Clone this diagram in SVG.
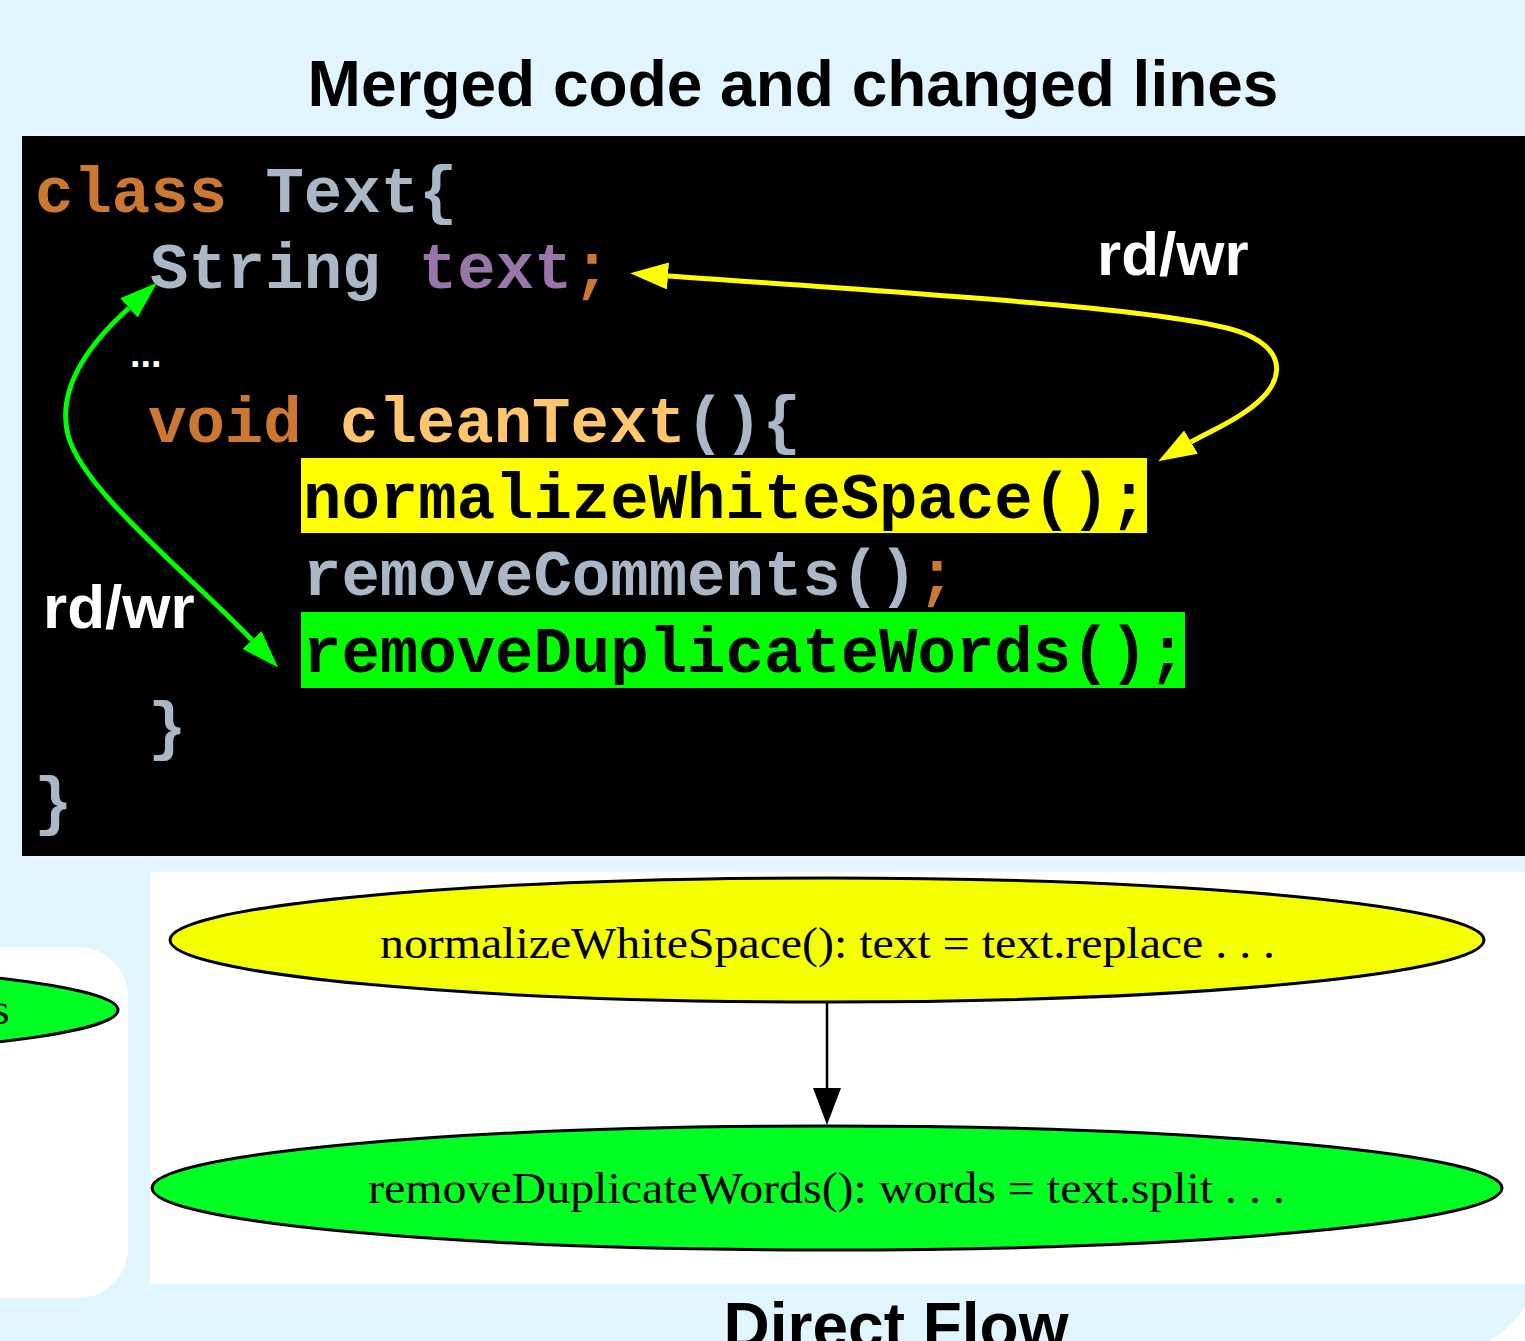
<svg xmlns="http://www.w3.org/2000/svg" width="1525" height="1341" viewBox="0 0 1525 1341">
<style>
.title{font-family:"Liberation Sans",Arial,sans-serif;font-weight:bold;font-size:64px;fill:#000}
.code{font-family:"Liberation Mono","Courier New",monospace;font-weight:bold;font-size:64px}
.kw{fill:#CC7832}
.id{fill:#A9B7C6}
.fld{fill:#9876AA}
.fn{fill:#FFC66D}
.hl{fill:#000}
.lbl{font-family:"Liberation Sans",Arial,sans-serif;font-weight:bold;font-size:62px;fill:#fff}
.gv{font-family:"Liberation Serif","Times New Roman",serif;font-size:45px;fill:#000}
.node{stroke:#000;stroke-width:3}
</style>
<defs>
<marker id="ahY" viewBox="0 0 10 10" refX="0" refY="5" preserveAspectRatio="none" markerUnits="userSpaceOnUse" markerWidth="38" markerHeight="27" orient="auto-start-reverse"><path d="M0,0 L10,5 L0,10 z" fill="#FFFF00"/></marker>
<marker id="ahG" viewBox="0 0 10 10" refX="0" refY="5" preserveAspectRatio="none" markerUnits="userSpaceOnUse" markerWidth="38" markerHeight="26" orient="auto-start-reverse"><path d="M0,0 L10,5 L0,10 z" fill="#00FF00"/></marker>
<marker id="ahK" viewBox="0 0 10 10" refX="0" refY="5" preserveAspectRatio="none" markerUnits="userSpaceOnUse" markerWidth="37" markerHeight="28" orient="auto"><path d="M0,0 L10,5 L0,10 z" fill="#000"/></marker>
</defs>
<rect x="0" y="0" width="1525" height="1341" fill="#fff"/>
<rect x="-100" y="-100" width="1640" height="1454" rx="100" ry="100" fill="#E1F5FE"/>
<text class="title" x="793" y="106" text-anchor="middle">Merged code and changed lines</text>
<rect x="22" y="136" width="1520" height="720" fill="#000"/>
<g id="code">
<text class="code" x="35" y="212"><tspan class="kw">class</tspan> <tspan class="id">Text{</tspan></text>
<g id="field"><text class="code" x="150" y="288"><tspan class="id">String</tspan> <tspan class="fld">text</tspan><tspan class="kw">;</tspan></text></g>
<text x="130" y="367" font-family="Liberation Sans,Arial,sans-serif" font-weight="bold" font-size="38" fill="#fff">...</text>
<text class="code" x="148" y="442"><tspan class="kw">void</tspan> <tspan class="fn">cleanText</tspan><tspan class="id">(){</tspan></text>
<g id="line-normalize"><rect x="301" y="458" width="846" height="75" fill="#FFFF00"/><text class="code hl" x="303" y="518">normalizeWhiteSpace();</text></g>
<text class="code" x="303" y="595"><tspan class="id">removeComments()</tspan><tspan class="kw">;</tspan></text>
<g id="line-remove"><rect x="301" y="612" width="884" height="76" fill="#00FF00"/><text class="code hl" x="303" y="672">removeDuplicateWords();</text></g>
<text class="code id" x="148" y="748">}</text>
<text class="code id" x="34" y="823">}</text>
</g>
<text class="lbl" x="1097" y="275">rd/wr</text>
<text class="lbl" x="43" y="628">rd/wr</text>
<rect x="-60" y="947" width="188" height="351" rx="50" ry="50" fill="#fff"/>
<rect x="150" y="872" width="1400" height="412" fill="#fff"/>
<g id="node-left">
<ellipse class="node" cx="-400" cy="1010" rx="518" ry="50" fill="#00FF22"/>
<text class="gv" x="-8" y="1024">s</text>
</g>
<g id="node-normalize">
<ellipse class="node" cx="827" cy="940" rx="657" ry="62" fill="#F4FF00"/>
<text class="gv" x="380" y="958" textLength="895" lengthAdjust="spacingAndGlyphs">normalizeWhiteSpace(): text = text.replace . . .</text>
</g>
<g id="node-remove">
<ellipse class="node" cx="827" cy="1188" rx="675" ry="62" fill="#00FF22"/>
<text class="gv" x="368" y="1203" textLength="917" lengthAdjust="spacingAndGlyphs">removeDuplicateWords(): words = text.split . . .</text>
</g>
<g id="connectors" fill="none">
<path d="M668,276 C950,296 1185,310 1243,333 C1290,352 1285,385 1245,412 C1225,426 1208,432 1191,442" stroke="#FFFF00" stroke-width="5" marker-start="url(#ahY)" marker-end="url(#ahY)"/>
<path d="M129,308 C80,352 58,395 68,435 C82,490 190,575 252,640" stroke="#00FF00" stroke-width="5" marker-start="url(#ahG)" marker-end="url(#ahG)"/>
<path d="M827,1003 L827,1088" stroke="#000" stroke-width="2.5" marker-end="url(#ahK)"/>
</g>
<text class="title" x="896" y="1348" text-anchor="middle">Direct Flow</text>
</svg>
